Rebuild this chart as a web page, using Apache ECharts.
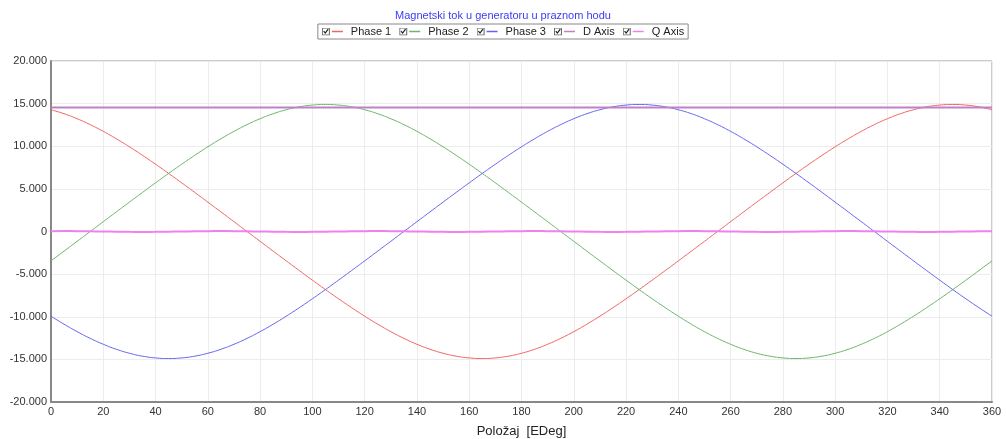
<!DOCTYPE html>
<html>
<head>
<meta charset="utf-8">
<script src="https://cdn.jsdelivr.net/npm/echarts@6/dist/echarts.min.js"></script>
<style>html,body{margin:0;padding:0;background:#fff;}#c{width:1006px;height:439px;}</style>
</head>
<body>
<div id="c"></div>
<script>
const angles = [0,5,10,15,20,25,30,35,40,45,50,55,60,65,70,75,80,85,90,95,100,105,110,115,120,125,130,135,140,145,150,155,160,165,170,175,180,185,190,195,200,205,210,215,220,225,230,235,240,245,250,255,260,265,270,275,280,285,290,295,300,305,310,315,320,325,330,335,340,345,350,355,360];
const phase1 = [14282,13815,13229,12536,11747,10876,9935,8936,7892,6813,5707,4583,3446,2301,1152,0,-1152,-2301,-3446,-4583,-5707,-6813,-7892,-8936,-9935,-10876,-11747,-12536,-13229,-13815,-14282,-14623,-14830,-14900,-14830,-14623,-14282,-13815,-13229,-12536,-11747,-10876,-9935,-8936,-7892,-6813,-5707,-4583,-3446,-2301,-1152,0,1152,2301,3446,4583,5707,6813,7892,8936,9935,10876,11747,12536,13229,13815,14282,14623,14830,14900,14830,14623,14282];
const phase2 = [-3446,-2301,-1152,0,1152,2301,3446,4583,5707,6813,7892,8936,9935,10876,11747,12536,13229,13815,14282,14623,14830,14900,14830,14623,14282,13815,13229,12536,11747,10876,9935,8936,7892,6813,5707,4583,3446,2301,1152,0,-1152,-2301,-3446,-4583,-5707,-6813,-7892,-8936,-9935,-10876,-11747,-12536,-13229,-13815,-14282,-14623,-14830,-14900,-14830,-14623,-14282,-13815,-13229,-12536,-11747,-10876,-9935,-8936,-7892,-6813,-5707,-4583,-3446];
const phase3 = [-9935,-10876,-11747,-12536,-13229,-13815,-14282,-14623,-14830,-14900,-14830,-14623,-14282,-13815,-13229,-12536,-11747,-10876,-9935,-8936,-7892,-6813,-5707,-4583,-3446,-2301,-1152,0,1152,2301,3446,4583,5707,6813,7892,8936,9935,10876,11747,12536,13229,13815,14282,14623,14830,14900,14830,14623,14282,13815,13229,12536,11747,10876,9935,8936,7892,6813,5707,4583,3446,2301,1152,0,-1152,-2301,-3446,-4583,-5707,-6813,-7892,-8936,-9935];
const dAxis = [14540,14540,14540,14540,14540,14540,14540,14540,14540,14540,14540,14540,14540,14540,14540,14540,14540,14540,14540,14540,14540,14540,14540,14540,14540,14540,14540,14540,14540,14540,14540,14540,14540,14540,14540,14540,14540,14540,14540,14540,14540,14540,14540,14540,14540,14540,14540,14540,14540,14540,14540,14540,14540,14540,14540,14540,14540,14540,14540,14540,14540,14540,14540,14540,14540,14540,14540,14540,14540,14540,14540,14540,14540];
const qAxis = [43,50,43,25,0,-25,-43,-50,-43,-25,0,25,43,50,43,25,0,-25,-43,-50,-43,-25,0,25,43,50,43,25,0,-25,-43,-50,-43,-25,0,25,43,50,43,25,0,-25,-43,-50,-43,-25,0,25,43,50,43,25,0,-25,-43,-50,-43,-25,0,25,43,50,43,25,0,-25,-43,-50,-43,-25,0,25,43];
const seriesNames = ['Phase 1','Phase 2','Phase 3','D Axis','Q Axis'];
const colors = ['#f06464','#6cb46c','#6464f0','#c080c8','#f080f0'];
const titleText = 'Magnetski tok u generatoru u praznom hodu';
const xName = 'Položaj  [EDeg]';
const yName = 'Magnetski tok [mVs]';

function icon(color){
  const svg = '<svg xmlns="http://www.w3.org/2000/svg" width="24" height="8" viewBox="0 0 24 8">' +
    '<rect x="0.5" y="0.5" width="7" height="7" fill="#fff" stroke="#666"/>' +
    '<path d="M1.8 3.6 L3.4 5.6 L6.3 1.6" fill="none" stroke="#222" stroke-width="1.2"/>' +
    '<line x1="10" y1="4" x2="21" y2="4" stroke="' + color + '" stroke-width="1.5"/></svg>';
  return 'image://data:image/svg+xml;charset=utf-8,' + encodeURIComponent(svg);
}
const sets = [phase1, phase2, phase3, dAxis, qAxis];
const widths = [1, 1, 1, 2, 2];
const series = sets.map((arr, i) => ({
  name: seriesNames[i],
  type: 'line',
  smooth: i !== 3,
  symbol: 'none',
  data: angles.map((a, k) => [a, arr[k]]),
  lineStyle: {color: colors[i], width: widths[i]},
  itemStyle: {color: colors[i]},
  z: i >= 3 ? 3 : 2
}));
const fmtY = v => v === 0 ? '0' : (v / 1000).toFixed(3);

const chart = echarts.init(document.getElementById('c'), null, {renderer: 'canvas'});
chart.setOption({
  animation: false,
  backgroundColor: '#fff',
  textStyle: {fontFamily: 'Liberation Sans, Arial, sans-serif'},
  title: {
    text: titleText, left: 'center', top: 10, padding: 0,
    textStyle: {color: '#3c3cf0', fontSize: 11, fontWeight: 'normal', fontFamily: 'Liberation Sans, Arial, sans-serif'}
  },
  legend: {
    top: 24, left: 'center',
    padding: [2, 4, 2, 4],
    borderColor: '#888', borderWidth: 1,
    itemWidth: 24, itemHeight: 8, itemGap: 8,
    textStyle: {color: '#222', fontSize: 11, fontFamily: 'Liberation Sans, Arial, sans-serif'},
    data: seriesNames.map((n, i) => ({name: n, icon: icon(colors[i])}))
  },
  grid: {left: 51, right: 14, top: 61, bottom: 37, outerBoundsMode: 'none', containLabel: false, show: true, borderColor: '#999', borderWidth: 1, backgroundColor: 'transparent'},
  xAxis: {
    type: 'value', min: 0, max: 360, interval: 20,
    name: xName, nameLocation: 'middle', nameGap: 23,
    nameTextStyle: {color: '#222', fontSize: 13},
    axisLine: {show: true, onZero: false, lineStyle: {color: '#888', width: 2}},
    axisTick: {show: false},
    axisLabel: {color: '#333', fontSize: 11, margin: 4},
    splitLine: {show: true, lineStyle: {color: '#ececec', width: 1}}
  },
  yAxis: {
    type: 'value', min: -20000, max: 20000, interval: 5000,
    name: yName, nameLocation: 'middle', nameGap: 33, nameRotate: 90,
    nameTextStyle: {color: '#222', fontSize: 12.5},
    axisLine: {show: true, onZero: false, lineStyle: {color: '#888', width: 2}},
    axisTick: {show: false},
    axisLabel: {color: '#333', fontSize: 11, margin: 4, formatter: fmtY},
    splitLine: {show: true, lineStyle: {color: '#ececec', width: 1}}
  },
  series: series
});
</script>
</body>
</html>
